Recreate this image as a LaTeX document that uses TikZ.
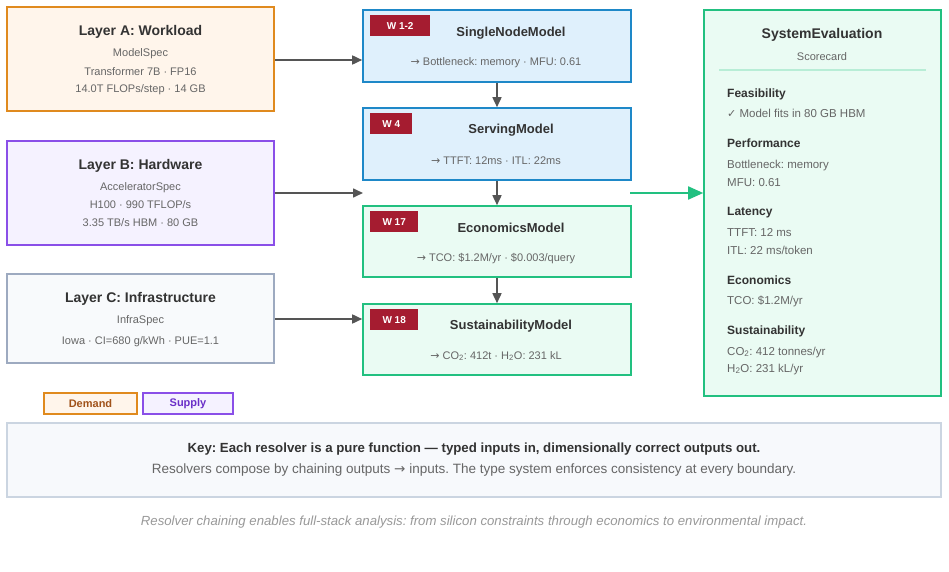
\documentclass[tikz,border=0pt]{standalone}
\usepackage{fontspec}
\setmainfont{Liberation Sans}
\newfontfamily\dejavu{DejaVu Sans}
\usetikzlibrary{arrows.meta}
\frenchspacing
\newcommand{\rarr}{{\dejavu →}}
\definecolor{txtdark}{HTML}{333333}
\definecolor{txtgray}{HTML}{666666}
\definecolor{oranB}{HTML}{E08A1E}
\definecolor{oranF}{HTML}{FFF5EB}
\definecolor{purpB}{HTML}{8A4FE8}
\definecolor{purpF}{HTML}{F5F2FF}
\definecolor{grayB}{HTML}{9DAAC0}
\definecolor{grayF}{HTML}{F8FAFC}
\definecolor{blueB}{HTML}{1E88C8}
\definecolor{blueF}{HTML}{DFF0FC}
\definecolor{grnB}{HTML}{22C080}
\definecolor{grnF}{HTML}{EAFBF3}
\definecolor{grnL}{HTML}{B8EDD6}
\definecolor{badge}{HTML}{A51C30}
\definecolor{keyB}{HTML}{CBD5E1}
\definecolor{keyF}{HTML}{F7F9FC}
\definecolor{arr}{HTML}{555555}
\definecolor{demT}{HTML}{A0521A}
\definecolor{supT}{HTML}{6A2FC8}
\definecolor{capT}{HTML}{999999}
\tikzset{
  box/.style={draw, line width=1.6pt, inner sep=0pt},
  ttl/.style={font=\fontsize{14}{16}\selectfont\bfseries, text=txtdark, inner sep=0pt},
  mtl/.style={font=\fontsize{13}{15}\selectfont\bfseries, text=txtdark, inner sep=0pt},
  sub/.style={font=\fontsize{11}{13}\selectfont, text=txtgray, inner sep=0pt},
  hdr/.style={font=\fontsize{12}{14}\selectfont\bfseries, text=txtdark, inner sep=0pt, anchor=base west},
  val/.style={font=\fontsize{11.5}{13}\selectfont, text=txtgray, inner sep=0pt, anchor=base west},
  bdg/.style={fill=badge, text=white, font=\fontsize{10}{12}\selectfont\bfseries, inner sep=0pt, anchor=north west},
  flow/.style={draw=arr, line width=1.6pt, -{Triangle[length=10pt,width=9pt]}},
  gflow/.style={draw=grnB, line width=1.8pt, -{Triangle[length=15pt,width=13pt]}},
  legbox/.style={line width=1.2pt, minimum height=21pt, inner sep=0pt, font=\fontsize{11}{13}\selectfont\bfseries},
}
\begin{document}
\begin{tikzpicture}[x=1pt,y=-1pt]
\useasboundingbox (0,0) rectangle (949,572);
\fill[white] (0,0) rectangle (949,572);
% Layer boxes
\node[box, draw=oranB, fill=oranF, minimum width=267pt, minimum height=104pt] (A) at (140.5,59) {};
\node[ttl] (At) at (140.5,32) {Layer A: Workload};
\node[sub] (A1) at (140.5,54) {ModelSpec};
\node[sub] (A2) at (140.5,72) {Transformer 7B · FP16};
\node[sub] (A3) at (140.5,90) {14.0T FLOPs/step · 14 GB};

\node[box, draw=purpB, fill=purpF, minimum width=267pt, minimum height=104pt] (B) at (140.5,193) {};
\node[ttl] (Bt) at (140.5,166) {Layer B: Hardware};
\node[sub] (B1) at (140.5,188) {AcceleratorSpec};
\node[sub] (B2) at (140.5,205) {H100 · 990 TFLOP/s};
\node[sub] (B3) at (140.5,223) {3.35 TB/s HBM · 80 GB};

\node[box, draw=grayB, fill=grayF, minimum width=267pt, minimum height=89pt] (C) at (140.5,318.5) {};
\node[ttl] (Ct) at (140.5,299) {Layer C: Infrastructure};
\node[sub] (C1) at (140.5,321) {InfraSpec};
\node[sub] (C2) at (140.5,342) {Iowa · CI=680 g/kWh · PUE=1.1};

% Model boxes
\node[box, draw=blueB, fill=blueF, minimum width=268pt, minimum height=72pt] (M1) at (497,46) {};
\node[bdg, minimum width=60pt, minimum height=21pt] (b1) at (370,15) {W 1-2};
\node[mtl] (M1t) at (511,33) {SingleNodeModel};
\node[sub] (M1s) at (496,63) {\rarr\ Bottleneck: memory · MFU: 0.61};

\node[box, draw=blueB, fill=blueF, minimum width=268pt, minimum height=72pt] (M2) at (497,144) {};
\node[bdg, minimum width=42pt, minimum height=21pt] (b2) at (370,113) {W 4};
\node[mtl] (M2t) at (511,130) {ServingModel};
\node[sub] (M2s) at (496,161) {\rarr\ TTFT: 12ms · ITL: 22ms};

\node[box, draw=grnB, fill=grnF, minimum width=268pt, minimum height=71pt] (M3) at (497,241.5) {};
\node[bdg, minimum width=48pt, minimum height=21pt] (b3) at (370,211) {W 17};
\node[mtl] (M3t) at (511,228) {EconomicsModel};
\node[sub] (M3s) at (496,259) {\rarr\ TCO: \$1.2M/yr · \$0.003/query};

\node[box, draw=grnB, fill=grnF, minimum width=268pt, minimum height=71pt] (M4) at (497,339.5) {};
\node[bdg, minimum width=48pt, minimum height=21pt] (b4) at (370,309) {W 18};
\node[mtl] (M4t) at (511,326) {SustainabilityModel};
\node[sub] (M4s) at (496,356) {\rarr\ CO\textsubscript{2}: 412t · H\textsubscript{2}O: 231 kL};

% System evaluation
\node[box, draw=grnB, fill=grnF, minimum width=237pt, minimum height=386pt] (S) at (822.5,203) {};
\node[ttl] (St) at (822,35) {SystemEvaluation};
\node[sub] (Ss) at (822,57) {Scorecard};
\coordinate (sl1) at (719,70);
\coordinate (sl2) at (926,70);
\draw[grnL, line width=1.2pt] (sl1) -- (sl2);
\node[hdr] (h1) at (727,97.5) {Feasibility};
\node[val] (v1) at (727,118) {{\dejavu\fontsize{11}{13}\selectfont ✓} Model fits in 80 GB HBM};
\node[hdr] (h2) at (727,147.5) {Performance};
\node[val] (v2) at (727,168) {Bottleneck: memory};
\node[val] (v3) at (727,186) {MFU: 0.61};
\node[hdr] (h3) at (727,215.5) {Latency};
\node[val] (v4) at (727,236) {TTFT: 12 ms};
\node[val] (v5) at (727,254) {ITL: 22 ms/token};
\node[hdr] (h4) at (727,284) {Economics};
\node[val] (v6) at (727,304) {TCO: \$1.2M/yr};
\node[hdr] (h5) at (727,334) {Sustainability};
\node[val] (v7) at (727,355) {CO\textsubscript{2}: 412 tonnes/yr};
\node[val] (v8) at (727,372) {H\textsubscript{2}O: 231 kL/yr};

% Legend
\node[legbox, draw=oranB, fill=oranF, minimum width=93pt, text=demT] (dem) at (90.5,403.5) {Demand};
\node[legbox, draw=purpB, fill=purpF, minimum width=90pt, text=supT] (sup) at (188,403.5) {Supply};

% Key box
\node[draw=keyB, fill=keyF, line width=1.2pt, minimum width=934pt, minimum height=74pt, inner sep=0pt] (K) at (474,460) {};
\node[font=\fontsize{13.25}{15}\selectfont\bfseries, text=txtdark, inner sep=0pt] (K1) at (474,449) {Key: Each resolver is a pure function — typed inputs in, dimensionally correct outputs out.};
\node[sub, font=\fontsize{13.5}{15}\selectfont] (K2) at (474,470) {Resolvers compose by chaining outputs \rarr\ inputs. The type system enforces consistency at every boundary.};
\node[font=\fontsize{13.2}{15}\selectfont\itshape, text=capT, inner sep=0pt] (cap) at (474,522) {Resolver chaining enables full-stack analysis: from silicon constraints through economics to environmental impact.};

% Connectors
\draw[flow] (A.east |- 0,60) -- (M1.west |- 0,60);
\coordinate (Bend) at (363,193);
\draw[flow] (B.east |- 0,193) -- (Bend);
\draw[flow] (C.east |- 0,319) -- (M4.west |- 0,319);
\draw[flow] (M1.south) -- (M2.north);
\draw[flow] (M2.south) -- (M3.north);
\draw[flow] (M3.south) -- (M4.north);
\coordinate (Gst) at (630,193);
\draw[gflow] (Gst) -- (S.west |- 0,193);
\end{tikzpicture}
\end{document}
